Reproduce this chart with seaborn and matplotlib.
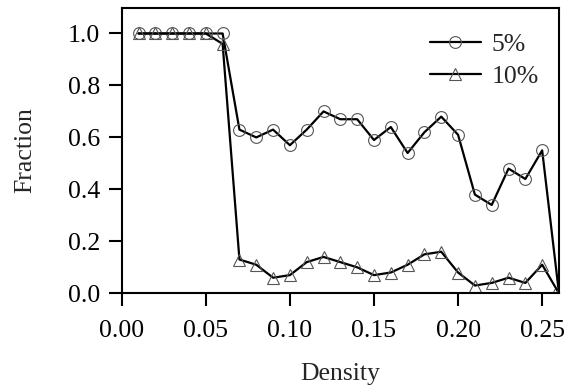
import pandas as pd
import matplotlib
matplotlib.use('Agg')
import matplotlib.pyplot as plt
import seaborn as sns

# Density values and fraction for the two series
density = [0.01, 0.02, 0.03, 0.04, 0.05, 0.06, 0.07, 0.08, 0.09, 0.10,
           0.11, 0.12, 0.13, 0.14, 0.15, 0.16, 0.17, 0.18, 0.19, 0.20,
           0.21, 0.22, 0.23, 0.24, 0.25, 0.26]
frac_5 = [1.0, 1.0, 1.0, 1.0, 1.0, 1.0, 0.63, 0.60, 0.63, 0.57,
          0.63, 0.70, 0.67, 0.67, 0.59, 0.64, 0.54, 0.62, 0.68, 0.61,
          0.38, 0.34, 0.48, 0.44, 0.55, 0.0]
frac_10 = [1.0, 1.0, 1.0, 1.0, 1.0, 0.96, 0.13, 0.11, 0.06, 0.07,
           0.12, 0.14, 0.12, 0.10, 0.07, 0.08, 0.11, 0.15, 0.16, 0.08,
           0.03, 0.04, 0.06, 0.04, 0.11, 0.0]
x_ticks = [0.00, 0.05, 0.10, 0.15, 0.20, 0.25]
y_ticks = [0.0, 0.2, 0.4, 0.6, 0.8, 1.0]

df = pd.DataFrame({'Density': density, '5%': frac_5, '10%': frac_10})

sns.set_style('ticks')
plt.rcParams['font.family'] = 'serif'
plt.rcParams['font.serif'] = ['Liberation Serif', 'DejaVu Serif']

fs = 18.5
fig = plt.figure(figsize=(5.69, 3.87), dpi=100)
ax = fig.add_axes([0.2139, 0.2421, 0.7685, 0.7385])

sns.lineplot(data=df, x='Density', y='5%', ax=ax, color='black', linewidth=1.6,
             marker='o', markersize=8.5, markerfacecolor='none',
             markeredgecolor='#555555', markeredgewidth=0.8, label='5%')
sns.lineplot(data=df, x='Density', y='10%', ax=ax, color='black', linewidth=1.6,
             marker='^', markersize=8.5, markerfacecolor='none',
             markeredgecolor='#555555', markeredgewidth=0.8, label='10%')

ax.set_xlim(0, 0.26)
ax.set_ylim(0, 1.1)
ax.set_xticks(x_ticks)
ax.set_xticklabels([f'{t:.2f}' for t in x_ticks])
ax.set_yticks(y_ticks)
ax.set_yticklabels([f'{t:.1f}' for t in y_ticks])
ax.tick_params(axis='both', direction='out', length=9.5, width=1.5,
               labelsize=fs, colors='black')
ax.tick_params(axis='x', pad=10)
ax.tick_params(axis='y', pad=6)
for sp in ax.spines.values():
    sp.set_linewidth(1.5)
    sp.set_color('black')

ax.set_xlabel('Density', fontsize=fs, labelpad=15)
ax.set_ylabel('Fraction', fontsize=fs, labelpad=23)

leg = ax.legend(loc='upper left', bbox_to_anchor=(0.706, 0.911), frameon=False,
                fontsize=fs, handlelength=1.95, handletextpad=0.43,
                labelspacing=0.36, borderpad=0, borderaxespad=0)

fig.savefig('out.png', dpi=100)
